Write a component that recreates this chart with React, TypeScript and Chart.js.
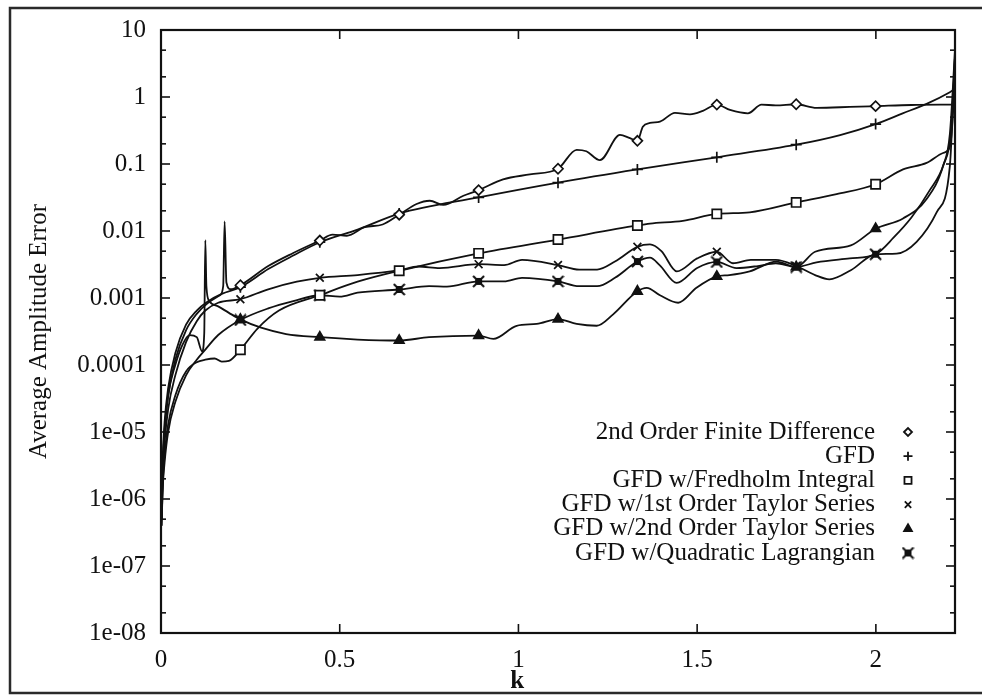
import { useEffect, useRef } from "react";
import { Chart, registerables } from "chart.js";
import { drawPoint } from "chart.js/helpers";

Chart.register(...registerables);

const K_MAX = 2.2214;
const X_TICKS = [0, 0.5, 1, 1.5, 2];
const Y_MAJOR = [1e-8, 1e-7, 1e-6, 1e-5, 1e-4, 1e-3, 1e-2, 1e-1, 1, 10];
const Y_LABELS = ["1e-08", "1e-07", "1e-06", "1e-05", "0.0001", "0.001", "0.01", "0.1", "1", "10"];
const Y_MINOR = [2e-8, 5e-8, 2e-7, 5e-7, 2e-6, 5e-6, 2e-5, 5e-5, 2e-4, 5e-4, 2e-3, 5e-3, 2e-2, 5e-2, 0.2, 0.5, 2, 5];
const MARK_K = [0.2221, 0.4443, 0.6664, 0.8886, 1.1107, 1.3328, 1.555, 1.7771, 1.9993];

const SERIES_LABELS = [
  "2nd Order Finite Difference",
  "GFD",
  "GFD w/Fredholm Integral",
  "GFD w/1st Order Taylor Series",
  "GFD w/2nd Order Taylor Series",
  "GFD w/Quadratic Lagrangian",
];

const FD2_K = [0.0015, 0.005, 0.01, 0.02, 0.04, 0.07, 0.1, 0.13, 0.165, 0.174, 0.178, 0.183, 0.195, 0.2221, 0.3, 0.37, 0.4443, 0.48, 0.52, 0.57, 0.62, 0.6664, 0.715, 0.752, 0.79, 0.846, 0.8886, 0.957, 1.032, 1.1107, 1.163, 1.19, 1.228, 1.284, 1.312, 1.3328, 1.348, 1.368, 1.396, 1.438, 1.48, 1.516, 1.555, 1.592, 1.642, 1.68, 1.72, 1.7771, 1.834, 1.927, 1.9993, 2.1, 2.2214];
const FD2_V = [5e-7, 3.5e-6, 1.1e-5, 3.5e-5, 1.2e-4, 3.3e-4, 5.8e-4, 8.3e-4, 1.1e-3, 1.5e-3, 1.39e-2, 1.7e-3, 1.35e-3, 1.55e-3, 3.0e-3, 4.7e-3, 7.2e-3, 8.8e-3, 8.5e-3, 1.14e-2, 1.25e-2, 1.75e-2, 2.53e-2, 2.83e-2, 2.45e-2, 3.36e-2, 4.07e-2, 5.9e-2, 7.0e-2, 8.5e-2, 0.163, 0.155, 0.114, 0.272, 0.243, 0.222, 0.36, 0.41, 0.43, 0.58, 0.55, 0.62, 0.77, 0.64, 0.57, 0.77, 0.75, 0.78, 0.69, 0.71, 0.73, 0.76, 0.77];

const GFD_K = [0.0015, 0.005, 0.01, 0.02, 0.04, 0.07, 0.1, 0.13, 0.17, 0.2221, 0.3, 0.37, 0.4443, 0.55, 0.6664, 0.8886, 1.1107, 1.3328, 1.555, 1.7771, 1.9, 1.9993, 2.075, 2.142, 2.207, 2.2214];
const GFD_V = [5e-7, 4e-6, 1.4e-5, 4.5e-5, 1.5e-4, 4e-4, 6.5e-4, 8.8e-4, 1.15e-3, 1.45e-3, 2.7e-3, 4.3e-3, 6.8e-3, 1.05e-2, 1.82e-2, 3.17e-2, 5.27e-2, 8.3e-2, 0.126, 0.194, 0.27, 0.394, 0.57, 0.79, 1.18, 1.32];

const FRED_K = [0.0015, 0.005, 0.01, 0.02, 0.04, 0.07, 0.1, 0.124, 0.15, 0.17, 0.19, 0.2221, 0.27, 0.33, 0.4443, 0.55, 0.6664, 0.8886, 1.1107, 1.3328, 1.368, 1.46, 1.555, 1.647, 1.7771, 1.89, 1.9993, 2.076, 2.142, 2.188, 2.207, 2.216, 2.2214];
const FRED_V = [4e-7, 1.8e-6, 4.5e-6, 1.3e-5, 3.5e-5, 8e-5, 1.1e-4, 1.2e-4, 1.25e-4, 1.12e-4, 1.15e-4, 1.69e-4, 3.5e-4, 6.5e-4, 1.1e-3, 1.75e-3, 2.55e-3, 4.64e-3, 7.46e-3, 1.21e-2, 1.29e-2, 1.42e-2, 1.8e-2, 1.9e-2, 2.67e-2, 3.56e-2, 4.99e-2, 8.3e-2, 0.104, 0.146, 0.18, 0.6, 3];

const T1_K = [0.0015, 0.005, 0.01, 0.02, 0.04, 0.07, 0.1, 0.124, 0.16, 0.2221, 0.3, 0.38, 0.4443, 0.55, 0.6664, 0.72, 0.78, 0.8886, 0.96, 1.01, 1.1107, 1.17, 1.22, 1.27, 1.3328, 1.368, 1.4, 1.443, 1.5, 1.555, 1.6, 1.65, 1.72, 1.7771, 1.83, 1.87, 1.93, 1.9993, 2.058, 2.114, 2.17, 2.207, 2.2214];
const T1_V = [5e-7, 2.5e-6, 7e-6, 2.2e-5, 7e-5, 2.2e-4, 4.5e-4, 6.5e-4, 8.5e-4, 9.6e-4, 1.35e-3, 1.75e-3, 2.0e-3, 2.2e-3, 2.6e-3, 2.95e-3, 2.8e-3, 3.2e-3, 3.1e-3, 3.7e-3, 3.1e-3, 2.65e-3, 2.65e-3, 3.5e-3, 5.8e-3, 6.3e-3, 5.0e-3, 2.5e-3, 3.9e-3, 4.9e-3, 3.3e-3, 3.7e-3, 3.7e-3, 3.0e-3, 2.2e-3, 1.9e-3, 2.6e-3, 4.5e-3, 4.6e-3, 6.9e-3, 1.9e-2, 9.3e-2, 4];

const T2_K = [0.0015, 0.005, 0.01, 0.02, 0.04, 0.06, 0.08, 0.1, 0.115, 0.121, 0.124, 0.127, 0.135, 0.16, 0.19, 0.2221, 0.28, 0.35, 0.4443, 0.55, 0.6664, 0.75, 0.8886, 0.93, 0.995, 1.051, 1.1107, 1.163, 1.219, 1.265, 1.3328, 1.359, 1.396, 1.447, 1.498, 1.555, 1.59, 1.647, 1.722, 1.7771, 1.83, 1.93, 1.9993, 2.076, 2.142, 2.188, 2.207, 2.2214];
const T2_V = [5e-7, 3e-6, 1e-5, 3.5e-5, 1e-4, 2e-4, 2.8e-4, 2.6e-4, 1.6e-4, 3e-4, 7.3e-3, 1.5e-3, 9e-4, 7.5e-4, 6e-4, 4.8e-4, 3.6e-4, 2.9e-4, 2.6e-4, 2.4e-4, 2.32e-4, 2.6e-4, 2.75e-4, 2.45e-4, 3.85e-4, 4.1e-4, 4.84e-4, 4.1e-4, 3.85e-4, 5.7e-4, 1.26e-3, 1.42e-3, 1.1e-3, 8.5e-4, 1.42e-3, 2.1e-3, 2.2e-3, 2.5e-3, 3.5e-3, 2.9e-3, 4.9e-3, 6.1e-3, 1.08e-2, 1.54e-2, 3.0e-2, 9.3e-2, 0.28, 5];

const QL_K = [0.0015, 0.005, 0.01, 0.02, 0.04, 0.07, 0.1, 0.124, 0.16, 0.2221, 0.3, 0.37, 0.4443, 0.5, 0.55, 0.6664, 0.75, 0.8, 0.8886, 0.96, 1.01, 1.1107, 1.17, 1.22, 1.27, 1.3328, 1.368, 1.395, 1.443, 1.5, 1.555, 1.61, 1.67, 1.72, 1.7771, 1.834, 1.927, 1.9993, 2.05, 2.1, 2.15, 2.19, 2.21, 2.2214];
const QL_V = [4e-7, 1.5e-6, 3.5e-6, 1e-5, 2.8e-5, 7e-5, 1.2e-4, 1.7e-4, 2.8e-4, 4.7e-4, 7e-4, 9e-4, 1.1e-3, 1.05e-3, 1.2e-3, 1.34e-3, 1.5e-3, 1.48e-3, 1.77e-3, 1.77e-3, 2.0e-3, 1.77e-3, 1.5e-3, 1.5e-3, 2.0e-3, 3.5e-3, 4.0e-3, 3.1e-3, 1.68e-3, 2.8e-3, 3.45e-3, 2.8e-3, 3.0e-3, 3.3e-3, 2.9e-3, 3.4e-3, 3.9e-3, 4.5e-3, 8e-3, 1.6e-2, 4e-2, 0.1, 0.3, 4];

const INK = "#111111";
const FONT = '"Liberation Serif", "DejaVu Serif", serif';
const FSIZE = 25;

function makeBoxX(size: number): HTMLCanvasElement {
  const c = document.createElement("canvas");
  c.width = size;
  c.height = size;
  const g = c.getContext("2d")!;
  const m = size / 2;
  g.fillStyle = INK;
  g.fillRect(m - 3.5, m - 3.5, 7, 7);
  g.strokeStyle = INK;
  g.lineWidth = 2;
  g.beginPath();
  g.moveTo(1, 1);
  g.lineTo(size - 1, size - 1);
  g.moveTo(size - 1, 1);
  g.lineTo(1, size - 1);
  g.stroke();
  return c;
}

function toPoints(ks: number[], vs: number[]) {
  return ks.map((k, i) => ({ x: k, y: vs[i] }));
}

const isMark = (x: number) => MARK_K.some((m) => Math.abs(m - x) < 1e-4);

const framePlugin = {
  id: "gnuplotFrame",
  afterDraw(chart: any) {
    const { ctx, chartArea: a, scales } = chart;
    ctx.save();
    ctx.strokeStyle = INK;
    ctx.lineWidth = 2.2;
    ctx.strokeRect(a.left, a.top, a.right - a.left, a.bottom - a.top);
    ctx.lineWidth = 1.6;
    const seg = (x1: number, y1: number, x2: number, y2: number) => {
      ctx.beginPath();
      ctx.moveTo(x1, y1);
      ctx.lineTo(x2, y2);
      ctx.stroke();
    };
    for (const v of X_TICKS) {
      const px = scales.x.getPixelForValue(v);
      seg(px, a.bottom, px, a.bottom - 9);
      seg(px, a.top, px, a.top + 9);
    }
    for (const v of Y_MAJOR) {
      const py = scales.y.getPixelForValue(v);
      seg(a.left, py, a.left + 9, py);
      seg(a.right, py, a.right - 9, py);
    }
    for (const v of Y_MINOR) {
      const py = scales.y.getPixelForValue(v);
      seg(a.left, py, a.left + 5, py);
      seg(a.right, py, a.right - 5, py);
    }
    // legend
    ctx.font = `${FSIZE}px ${FONT}`;
    ctx.textAlign = "right";
    ctx.textBaseline = "middle";
    chart.data.datasets.forEach((ds: any, i: number) => {
      const y = 432 + i * 24.2;
      ctx.fillStyle = INK;
      ctx.fillText(ds.label, 875, y);
      ctx.lineWidth = 1.8;
      ctx.strokeStyle = INK;
      ctx.fillStyle = ds.pointBackgroundColor;
      drawPoint(ctx, { pointStyle: ds.pointStyle, radius: ds.legendRadius, borderWidth: 1.8, rotation: 0 } as any, 908, y);
    });
    // x axis title
    ctx.fillStyle = INK;
    ctx.font = `bold ${FSIZE}px ${FONT}`;
    ctx.textAlign = "center";
    ctx.fillText("k", a.left + (a.right - a.left) * 0.4485, 682);
    // outer frame
    ctx.lineWidth = 2.5;
    ctx.strokeStyle = "#2a2a2a";
    ctx.beginPath();
    ctx.moveTo(chart.width + 5, 8);
    ctx.lineTo(10, 8);
    ctx.lineTo(10, 693);
    ctx.lineTo(chart.width + 5, 693);
    ctx.stroke();
    ctx.restore();
  },
};

export default function App() {
  const ref = useRef<HTMLCanvasElement>(null);
  useEffect(() => {
    if (!ref.current) return;
    const boxX = makeBoxX(13);
    const mk = (label: string, ks: number[], vs: number[], style: any, r: number, bg: string, lr: number) => ({
      label,
      data: toPoints(ks, vs),
      borderColor: INK,
      borderWidth: 1.8,
      pointStyle: style,
      pointBackgroundColor: bg,
      pointBorderColor: INK,
      pointBorderWidth: 1.7,
      pointRadius: (c: any) => (c.raw && isMark(c.raw.x) ? r : 0),
      pointHoverRadius: 0,
      cubicInterpolationMode: "monotone",
      fill: false,
      legendRadius: lr,
    });
    const chart = new Chart(ref.current, {
      type: "line",
      data: {
        datasets: [
          mk(SERIES_LABELS[0], FD2_K, FD2_V, "rectRot", 5, "#ffffff", 4),
          mk(SERIES_LABELS[1], GFD_K, GFD_V, "cross", 5.5, INK, 4.5),
          mk(SERIES_LABELS[2], FRED_K, FRED_V, "rect", 6.5, "#ffffff", 5),
          mk(SERIES_LABELS[3], T1_K, T1_V, "crossRot", 5.5, INK, 4.5),
          mk(SERIES_LABELS[4], T2_K, T2_V, "triangle", 5.5, INK, 4.5),
          mk(SERIES_LABELS[5], QL_K, QL_V, boxX, 6, INK, 5),
        ] as any,
      },
      options: {
        responsive: false,
        animation: false,
        devicePixelRatio: 1,
        events: [],
        layout: { padding: { left: 10, right: 27, top: 22, bottom: 0 } },
        plugins: { legend: { display: false }, tooltip: { enabled: false } },
        scales: {
          x: {
            type: "linear",
            min: 0,
            max: K_MAX,
            grid: { display: false, drawTicks: false },
            border: { display: false },
            afterFit: (s: any) => {
              s.height = 63;
            },
            afterBuildTicks: (s: any) => {
              s.ticks = X_TICKS.map((v) => ({ value: v }));
            },
            ticks: {
              autoSkip: false,
              maxRotation: 0,
              padding: 12,
              color: INK,
              font: { family: FONT, size: FSIZE },
              callback: (v: any) => String(v),
            },
          },
          y: {
            type: "logarithmic",
            min: 1e-8,
            max: 10,
            grid: { display: false, drawTicks: false },
            border: { display: false },
            afterFit: (s: any) => {
              s.width = 151;
            },
            afterBuildTicks: (s: any) => {
              s.ticks = Y_MAJOR.map((v) => ({ value: v }));
            },
            ticks: {
              autoSkip: false,
              padding: 15,
              color: INK,
              font: { family: FONT, size: FSIZE },
              callback: (v: any) => {
                const i = Y_MAJOR.findIndex((m) => Math.abs(Math.log10(m) - Math.log10(v)) < 1e-6);
                return i >= 0 ? Y_LABELS[i] : "";
              },
            },
            title: {
              display: true,
              text: "Average Amplitude Error",
              color: INK,
              font: { family: FONT, size: FSIZE },
              padding: { top: 14, bottom: 0 },
            },
          },
        },
      },
      plugins: [framePlugin],
    });
    return () => chart.destroy();
  }, []);
  return (
    <div style={{ position: "absolute", left: 0, top: 0, width: 982, height: 696, background: "#fff" }}>
      <canvas ref={ref} width={982} height={696} style={{ display: "block" }} />
    </div>
  );
}
